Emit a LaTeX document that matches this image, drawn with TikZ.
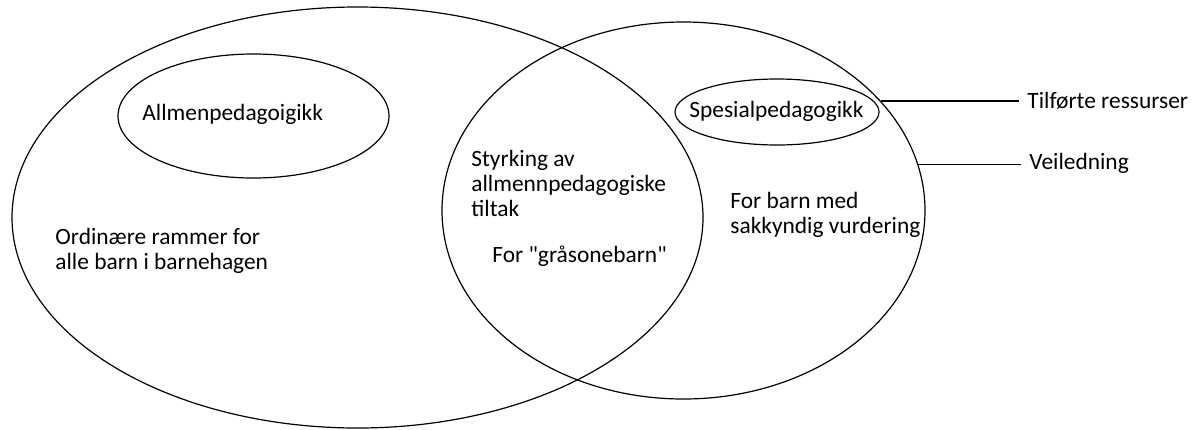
\documentclass[tikz,border=0pt]{standalone}
\usepackage{fontspec}
\setmainfont{Carlito}[Ligatures=TeXOff]
\usetikzlibrary{shapes.geometric}
\begin{document}
\begin{tikzpicture}[x=0.5pt,y=-0.5pt,
  ring/.style={ellipse,draw,line width=0.6pt,inner sep=0pt},
  txt/.style={anchor=west,align=left,inner sep=0pt,font=\fontsize{11.7pt}{12.5pt}\selectfont},
  lbl/.style={anchor=west,inner xsep=4pt,inner ysep=0pt,font=\fontsize{11.7pt}{12.5pt}\selectfont},
  lead/.style={line width=0.6pt}]
\useasboundingbox (0,0) rectangle (1198,429);
\node[ring,minimum width=345.5pt,minimum height=210.5pt] (L) at (357.5,217.5) {};
\node[ring,minimum width=241.5pt,minimum height=188.5pt] (R) at (683.5,210.5) {};
\node[ring,minimum width=135.5pt,minimum height=62pt] (A) at (253.5,116) {};
\node[ring,minimum width=102pt,minimum height=33pt] (S) at (777,112) {};
\node[txt] (tA) at (142,114) {Allmenpedagoigikk};
\node[txt] (tS) at (689,111) {Spesialpedagogikk};
\node[txt] (tO) at (55,251) {Ordinære rammer for\\alle barn i barnehagen};
\node[txt] (tSt) at (471,183) {Styrking av\\allmennpedagogiske\\tiltak};
\node[txt] (tG) at (492,256) {For "gråsonebarn"};
\node[txt] (tB) at (730,215) {For barn med\\sakkyndig vurdering};
\node[lbl] (tT) at (1019,101) {Tilførte ressurser};
\node[lbl] (tV) at (1021,163) {Veiledning};
\draw[lead] (R.29.8) -- (R.29.8 -| tT.west);
\draw[lead] (R.11.2) -- (R.11.2 -| tV.west);
\end{tikzpicture}
\end{document}
